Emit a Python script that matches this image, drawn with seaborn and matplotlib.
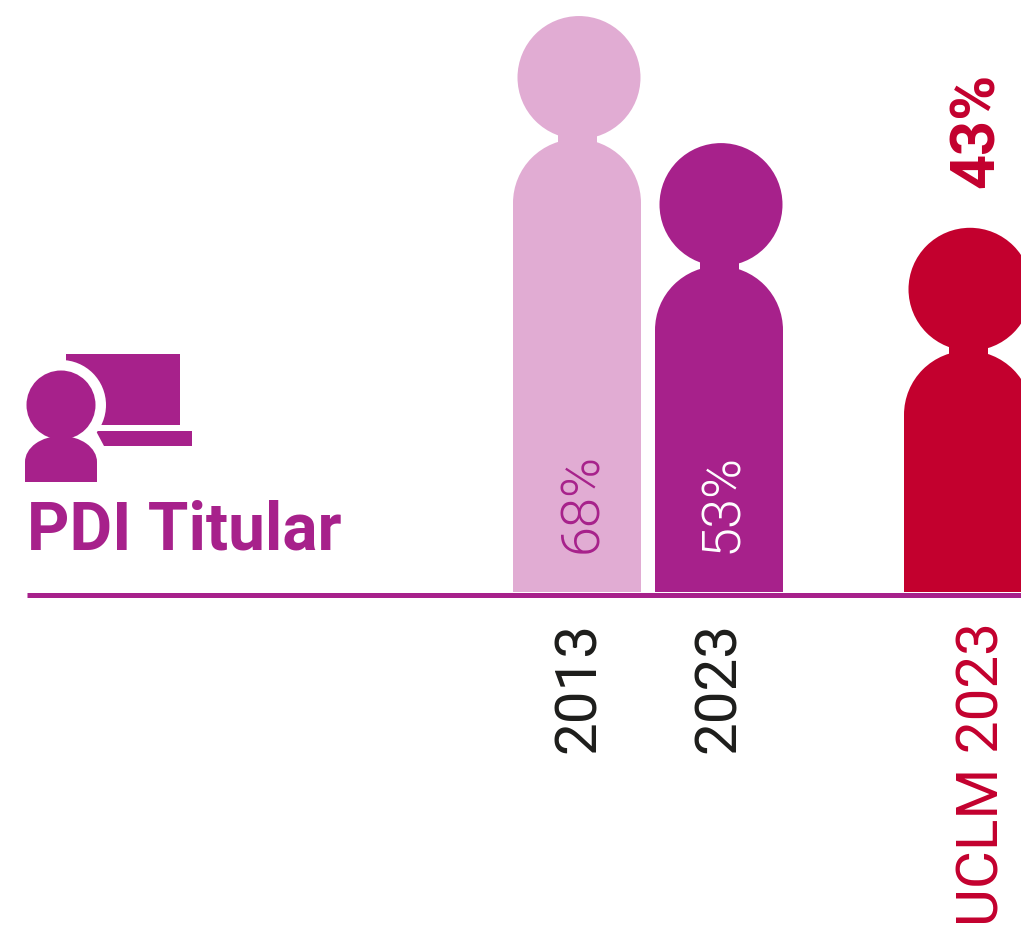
import matplotlib
matplotlib.use("Agg")
import matplotlib.pyplot as plt
from matplotlib.patches import Circle, Ellipse, Polygon, Rectangle
from matplotlib.transforms import Affine2D
import pandas as pd
import seaborn as sns

labels = ["2013", "2023", "UCLM 2023"]
values = [68, 53, 43]
value_labels = ["68%", "53%", "43%"]
title = "PDI Titular"

bar_x = [577, 719, 968]
tick_x = [579, 719, 983]
value_shift = [5, 3, 9]
bar_colors = ["#E1ACD3", "#A7218B", "#C3002E"]
value_colors = ["#A7218B", "#FFFFFF", "#C3002E"]
tick_colors = ["#1D1D1B", "#1D1D1B", "#C3002E"]
PURPLE = "#A7218B"
W, H = 1021, 927
BASE = 592
PX = 8.47  # pixels per percentage point

sns.set_theme(style="white")
plt.rcParams["font.family"] = ["Roboto", "DejaVu Sans"]

fig = plt.figure(figsize=(W / 100, H / 100), dpi=100)
ax = fig.add_axes([0, (H - BASE) / H, 1, BASE / H])

df = pd.DataFrame({"x": bar_x, "value": values, "label": labels})
sns.barplot(
    data=df, x="x", y="value", hue="label", palette=dict(zip(labels, bar_colors)),
    native_scale=True, dodge=False, width=128 / 142, legend=False,
    saturation=1, linewidth=0, ax=ax,
)
ax.set_xlim(0, W)
ax.set_ylim(0, BASE / PX)
ax.set_xlabel("")
ax.set_ylabel("")

# turn each bar into a person: straight body, shoulders, neck, head
bars = [b for c in ax.containers for b in c]
bars.sort(key=lambda b: b.get_x())
for bar, color in zip(bars, bar_colors):
    total = bar.get_height()
    cx = bar.get_x() + bar.get_width() / 2
    w = bar.get_width()
    shoulder_y = total - 187 / PX
    bar.set_height(shoulder_y)
    ax.add_patch(Ellipse((cx, shoulder_y), w, 128 / PX, color=color, lw=0))
    ax.add_patch(Rectangle((cx - 19.5, total - 130 / PX), 39, 25 / PX, color=color, lw=0))
    ax.add_patch(Ellipse((cx + 2, total - 61.5 / PX), 123, 123 / PX, color=color, lw=0))

for i, bar in enumerate(bars):
    cx = bar.get_x() + bar.get_width() / 2 + value_shift[i]
    if i < 2:
        ax.text(cx, 39 / PX, value_labels[i], rotation=90, ha="center", va="bottom",
                color=value_colors[i], fontsize=39, fontweight=300)
    else:
        ax.text(cx, values[i] + 40 / PX, value_labels[i], rotation=90, ha="center", va="bottom",
                color=value_colors[i], fontsize=44, fontweight="bold")

# the spine has to go first, moving it resets the ticks
for side in ["top", "left", "right"]:
    ax.spines[side].set_visible(False)
ax.spines["bottom"].set_color(PURPLE)
ax.spines["bottom"].set_linewidth(3.6)
ax.spines["bottom"].set_position(("outward", 2.5))
ax.spines["bottom"].set_bounds(27, W)
ax.spines["bottom"].set_capstyle("butt")
ax.set_facecolor("none")

ax.set_xticks(tick_x)
ax.set_xticklabels(labels, rotation=90, fontsize=42)
for tick, color in zip(ax.get_xticklabels(), tick_colors):
    tick.set_color(color)
ax.tick_params(axis="x", length=0, pad=19)
ax.tick_params(axis="y", left=False, labelleft=False)

# icon and heading, placed in pixels from the top left
px = Affine2D().scale(1, -1).translate(0, H)
icon = [
    Rectangle((66, 354), 114, 71, color=PURPLE, lw=0),
    Polygon([(96, 431), (192, 431), (192, 446), (104, 446)], color=PURPLE, lw=0),
    Circle((61, 405), 45, color="white", lw=0),
    Circle((61, 405), 34.5, color=PURPLE, lw=0),
    Ellipse((61, 462), 72, 52, color=PURPLE, lw=0),
    Rectangle((25, 462), 72, 20, color=PURPLE, lw=0),
    Rectangle((25, 482), 72, 8, color="white", lw=0),
]
for p in icon:
    p.set_transform(px)
    p.set_clip_on(False)
    ax.add_artist(p)
ax.text(27, 550, title, transform=px, color=PURPLE, fontsize=47.3, fontweight="bold",
        ha="left", va="baseline")

fig.savefig("out.png", dpi=100)
